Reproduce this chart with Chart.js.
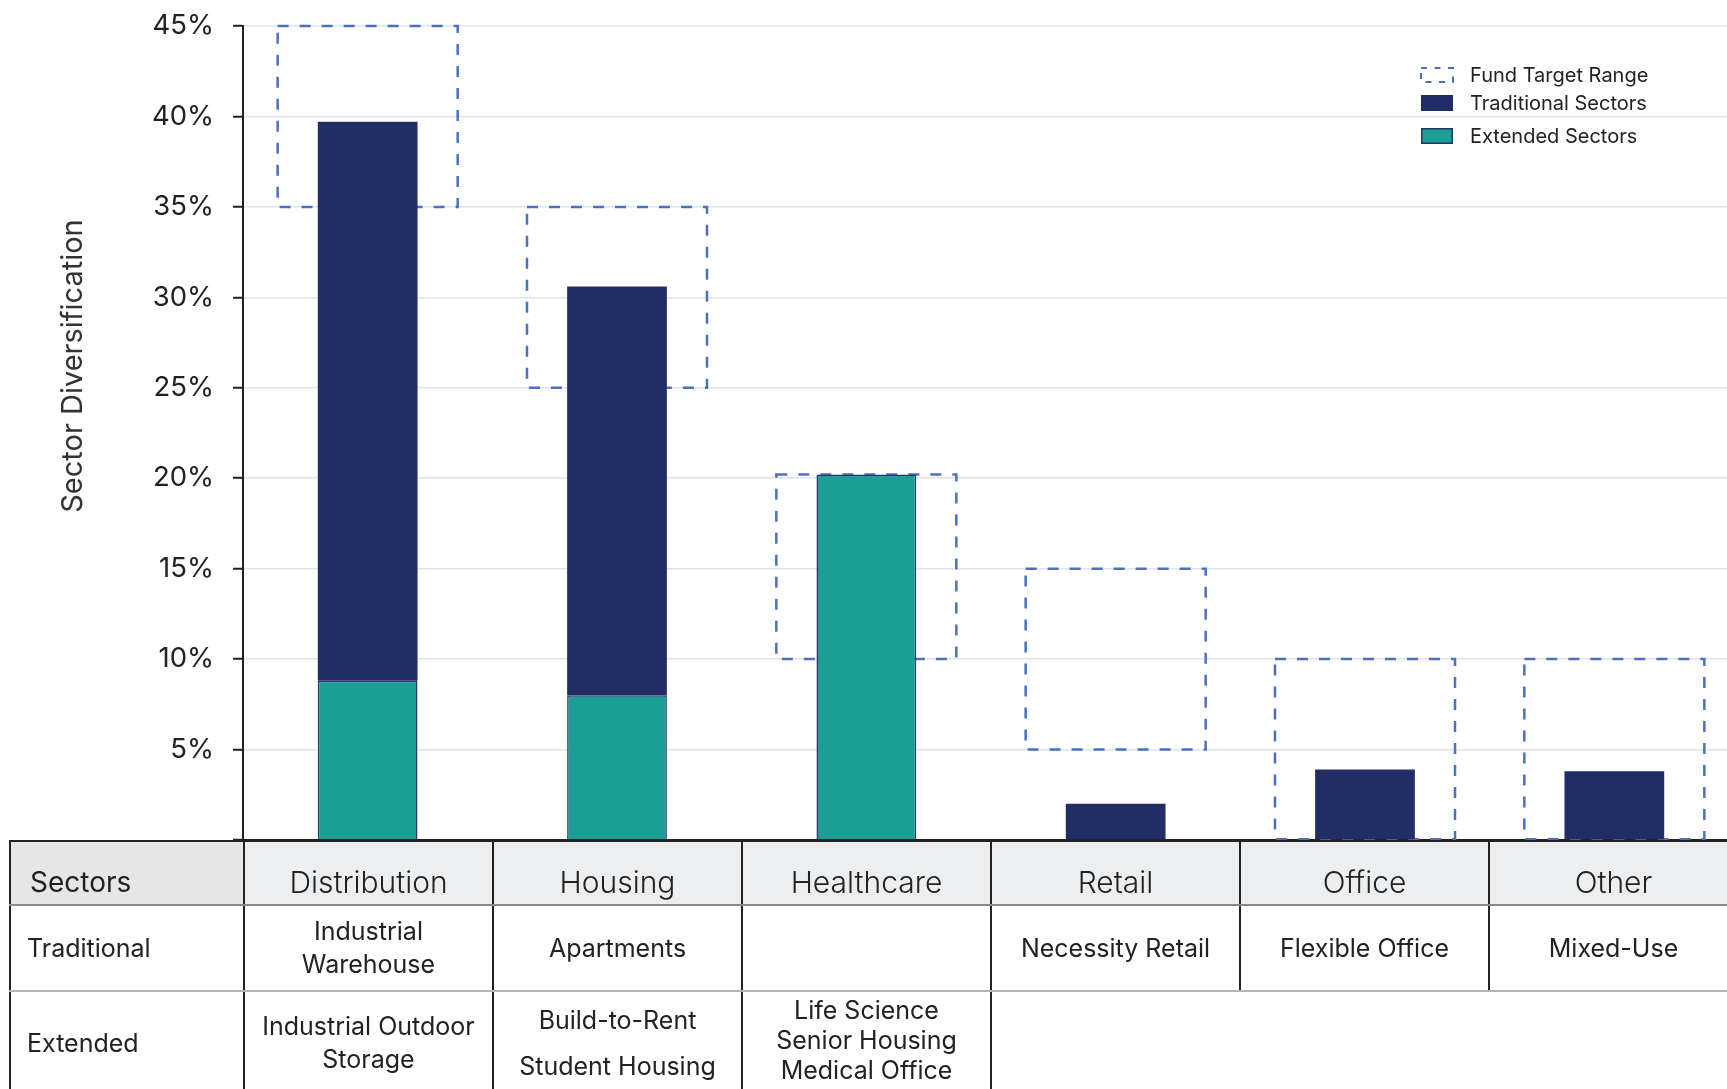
<!DOCTYPE html>
<html>
<head>
<meta charset="utf-8">
<title>Sector Diversification</title>
<script src="https://cdn.jsdelivr.net/npm/chart.js@4.4.0/dist/chart.umd.min.js"></script>
<style>
  html, body { margin: 0; padding: 0; background: #fff; overflow: hidden; }
  body { width: 1727px; height: 1089px; position: relative; font-family: Inter, sans-serif; color: #222; }
  #chartBox { position: absolute; left: 0; top: 0; }
  #sectorTable {
    position: absolute; left: 9px; top: 840px; width: 1730px;
    border-collapse: collapse; table-layout: fixed;
  }
  #sectorTable th, #sectorTable td {
    border-left: 2px solid #222; border-right: 2px solid #222;
    text-align: center; padding: 0; vertical-align: middle;
  }
  #sectorTable tr.head th {
    height: 44px; background: #eceef0; font-size: 30px; font-weight: 300;
    border-top: 2px solid #222; border-bottom: 2px solid #8a8a8a; padding-top: 18px;
  }
  #sectorTable tr.head th.rowName { background: #e6e6e6; font-weight: 400; font-size: 28px; padding-left: 19px; }
  #sectorTable .rowName { text-align: left; padding-left: 16px; }
  #sectorTable tr.trad td { height: 84px; font-size: 25px; line-height: 33px; border-bottom: 2px solid #b4b4b4; }
  #sectorTable tr.ext td { height: 102px; font-size: 25px; line-height: 33px; }
  #sectorTable tr.ext td.blank { border-left: none; border-right: none; }
  #sectorTable tr.ext td:nth-child(3) div + div { margin-top: 13px; }
  #sectorTable tr.ext td:nth-child(4) { line-height: 30px; }
  #sectorTable tr.ext td:nth-child(4) div { position: relative; top: -3px; }
</style>
</head>
<body>
<div id="chartBox"><canvas id="sectorChart" width="1740" height="842"></canvas></div>
<table id="sectorTable"></table>
<script>
// Sector allocation, % of fund
const sectors = ['Distribution', 'Housing', 'Healthcare', 'Retail', 'Office', 'Other'];
const traditionalShare = [30.9, 22.6, null, 2.0, 3.9, 3.8];
const extendedShare = [8.8, 8.0, 20.2, null, null, null];

// Fund target range per sector (low / high)
const targetLow = [35, 25, 10, 5, 0, 0];
const targetHigh = [45, 35, 20.2, 15, 10, 10];

// Property types listed under each sector
const traditionalTypes = [['Industrial', 'Warehouse'], ['Apartments'], [], ['Necessity Retail'], ['Flexible Office'], ['Mixed-Use']];
const extendedTypes = [
    ['Industrial Outdoor', 'Storage'],
    ['Build-to-Rent', 'Student Housing'],
    ['Life Science', 'Senior Housing', 'Medical Office'],
    null, null, null
];

const yTicks = [0, 5, 10, 15, 20, 25, 30, 35, 40, 45];
const yTitle = 'Sector Diversification';

const NAVY = '#212d65';
const TEAL = '#1d9e94';
const RANGE_BLUE = '#4b6fc2';

function buildTable() {
    const table = document.getElementById('sectorTable');
    let html = '<colgroup><col style="width:234px">' + sectors.map(() => '<col>').join('') + '</colgroup>';
    html += '<tr class="head"><th class="rowName">Sectors</th>' +
        sectors.map(s => `<th>${s}</th>`).join('') + '</tr>';
    html += '<tr class="trad"><td class="rowName">Traditional</td>' +
        traditionalTypes.map(lines => `<td>${lines.join('<br>')}</td>`).join('') + '</tr>';
    html += '<tr class="ext"><td class="rowName">Extended</td>' +
        extendedTypes.map(lines => lines
            ? `<td>${lines.map(l => `<div>${l}</div>`).join('')}</td>`
            : '<td class="blank"></td>').join('') + '</tr>';
    table.innerHTML = html;
}

// dashed outline for each target range bar
const targetBoxes = {
    id: 'targetBoxes',
    beforeDatasetsDraw(chart) {
        const meta = chart.getDatasetMeta(2);
        const ctx = chart.ctx;
        ctx.save();
        ctx.strokeStyle = RANGE_BLUE;
        ctx.lineWidth = 2.5;
        ctx.setLineDash([11, 11]);
        meta.data.forEach(bar => {
            const {x, y, base, width} = bar.getProps(['x', 'y', 'base', 'width'], true);
            ctx.strokeRect(x - width / 2, y, width, base - y);
        });
        ctx.restore();
    }
};

// legend in the top right corner of the plot
const legendRows = [0, 28, 61];
const cornerLegend = {
    id: 'cornerLegend',
    afterDraw(chart) {
        const {ctx, chartArea} = chart;
        const x = chartArea.left + 1177;
        const top = chartArea.top + 41;
        ctx.save();
        ctx.font = '20px Inter, sans-serif';
        ctx.textBaseline = 'middle';
        chart.data.datasets.slice().reverse().forEach((ds, i) => {
            const y = top + legendRows[i];
            if (ds.stack === 'range') {
                ctx.strokeStyle = RANGE_BLUE;
                ctx.lineWidth = 2;
                ctx.setLineDash([6, 7.5]);
                ctx.strokeRect(x + 1, y + 1, 32, 14);
                ctx.setLineDash([]);
            } else {
                ctx.fillStyle = ds.backgroundColor;
                ctx.fillRect(x + 1, y, 32, 16);
                if (ds.borderWidth) {
                    ctx.strokeStyle = ds.borderColor;
                    ctx.lineWidth = 1.5;
                    ctx.strokeRect(x + 1.75, y + 0.75, 30.5, 14.5);
                }
            }
            ctx.fillStyle = '#222';
            ctx.fillText(ds.label, x + 50, y + 8.5);
        });
        ctx.restore();
    }
};

// rotated y axis title, sits a bit above the middle of the plot
const axisTitle = {
    id: 'axisTitle',
    afterDraw(chart) {
        const {ctx, chartArea} = chart;
        ctx.save();
        ctx.translate(82, chartArea.top + 340);
        ctx.rotate(-Math.PI / 2);
        ctx.font = '29px Inter, sans-serif';
        ctx.fillStyle = '#333';
        ctx.textAlign = 'center';
        ctx.textBaseline = 'alphabetic';
        ctx.fillText(yTitle, 0, 0);
        ctx.restore();
    }
};

function drawChart() {
    Chart.defaults.font.family = 'Inter, sans-serif';
    Chart.defaults.color = '#222';

    new Chart(document.getElementById('sectorChart'), {
        type: 'bar',
        data: {
            labels: sectors,
            datasets: [{
                label: 'Extended Sectors',
                data: extendedShare,
                backgroundColor: TEAL,
                borderColor: '#27346c',
                borderWidth: 1.5,
                stack: 'sector',
                categoryPercentage: 0.8,
                barPercentage: 0.5
            }, {
                label: 'Traditional Sectors',
                data: traditionalShare,
                backgroundColor: NAVY,
                borderColor: NAVY,
                borderWidth: 0,
                stack: 'sector',
                categoryPercentage: 0.8,
                barPercentage: 0.5
            }, {
                label: 'Fund Target Range',
                data: targetLow.map((lo, i) => [lo, targetHigh[i]]),
                backgroundColor: 'rgba(0,0,0,0)',
                borderWidth: 0,
                stack: 'range',
                grouped: false,
                categoryPercentage: 1,
                barPercentage: 0.722
            }]
        },
        options: {
            responsive: false,
            animation: false,
            layout: { padding: { top: 26, right: 1, bottom: 2, left: 0 } },
            plugins: {
                legend: { display: false },
                tooltip: { enabled: false }
            },
            scales: {
                x: {
                    stacked: true,
                    grid: { display: false, drawTicks: false },
                    ticks: { display: false },
                    border: { display: true, color: '#222', width: 2 }
                },
                y: {
                    stacked: true,
                    min: yTicks[0],
                    max: yTicks[yTicks.length - 1],
                    afterBuildTicks: axis => { axis.ticks = yTicks.map(v => ({value: v})); },
                    // fixed axis width, no extra room above/below for the labels
                    afterFit: axis => {
                        axis.width = 243;
                        axis.paddingTop = 0;
                        axis.paddingBottom = 0;
                    },
                    ticks: {
                        padding: 19,
                        color: '#222',
                        font: { size: 27.5 },
                        callback: v => v === 0 ? '' : v + '%'
                    },
                    grid: { color: '#dde4ea', lineWidth: 1.5, tickColor: '#222', tickWidth: 2, tickLength: 10 },
                    border: { color: '#222', width: 2 }
                }
            }
        },
        plugins: [targetBoxes, cornerLegend, axisTitle]
    });
}

buildTable();
Promise.all([
    document.fonts.load('28px Inter'),
    document.fonts.load('300 28px Inter'),
    document.fonts.load('20px Inter')
]).catch(() => {}).then(drawChart);
</script>
</body>
</html>
